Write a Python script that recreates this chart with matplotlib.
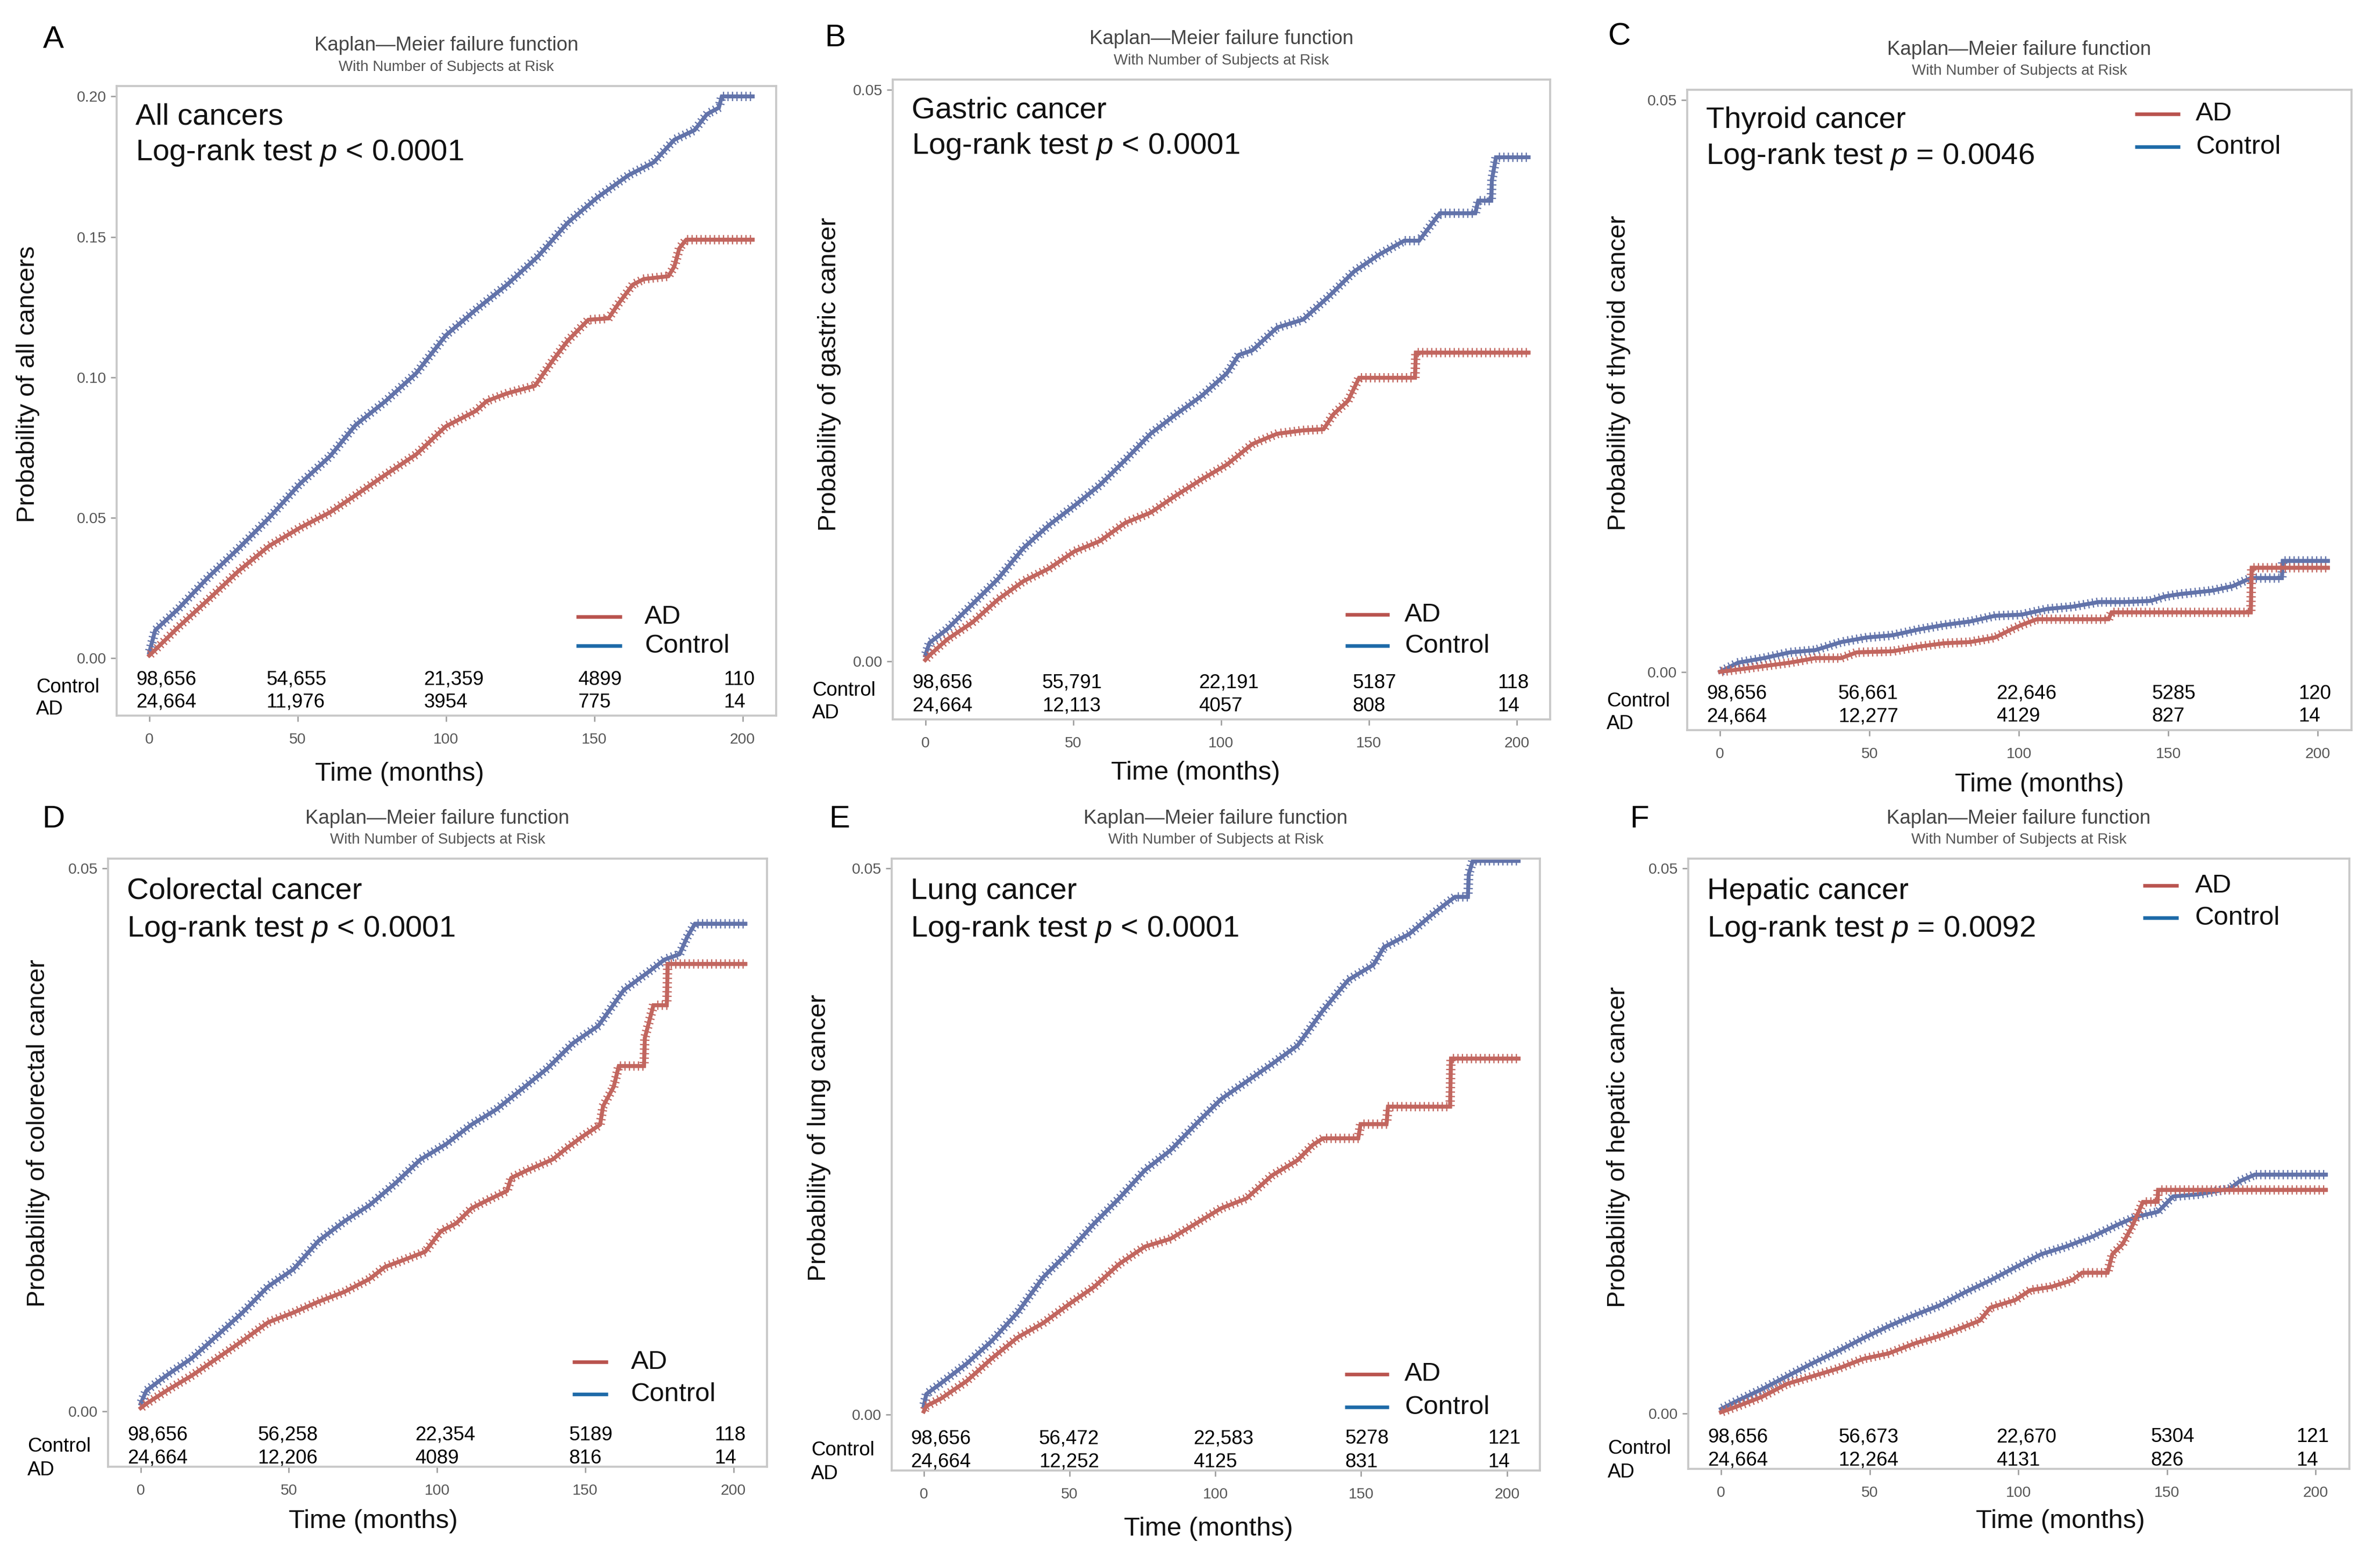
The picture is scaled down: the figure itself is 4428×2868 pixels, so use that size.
import matplotlib
matplotlib.use('Agg')
import matplotlib.pyplot as plt
from matplotlib import patheffects

plt.rcParams['font.family'] = ['Liberation Sans', 'DejaVu Sans']
plt.rcParams['mathtext.fontset'] = 'custom'
plt.rcParams['mathtext.rm'] = 'Liberation Sans'
plt.rcParams['mathtext.it'] = 'Liberation Sans:italic'

# ---- data (months, cumulative probability) ----

# A  all cancers
a_ctrl_t = [0, 1, 2, 9.7, 20, 30, 40.4, 50.7, 61, 69.5, 79.7, 90, 100, 110, 120.6, 131, 141, 151, 161.6, 170, 177, 183.8, 188, 192, 193, 203.4]
a_ctrl_p = [0.002, 0.006, 0.010, 0.0175, 0.029, 0.039, 0.050, 0.062, 0.072, 0.083, 0.0916, 0.1015, 0.115, 0.124, 0.133, 0.143, 0.155, 0.164, 0.172, 0.1765, 0.1846, 0.188, 0.1937, 0.196, 0.200, 0.200]
a_ad_t = [0, 2, 9.7, 20, 30, 40.4, 50.7, 61, 69.5, 79.7, 90, 100, 110, 113.8, 120.6, 130, 136, 141, 148, 154.8, 158, 163, 166.7, 175, 177, 178.7, 181, 203.4]
a_ad_p = [0.001, 0.003, 0.011, 0.021, 0.031, 0.040, 0.0464, 0.052, 0.058, 0.0654, 0.0726, 0.0826, 0.088, 0.0916, 0.0943, 0.097, 0.106, 0.113, 0.1205, 0.121, 0.126, 0.133, 0.135, 0.136, 0.1395, 0.146, 0.149, 0.149]

# B  gastric cancer
b_ctrl_t = [0, 1.4, 7.4, 16, 24.6, 33.2, 41.8, 50.4, 59, 67.6, 76.2, 84.8, 93.4, 102, 106, 110.6, 119, 127.8, 136.4, 145, 153.6, 162, 167, 174, 186, 187, 191.4, 191.6, 193, 204]
b_ctrl_p = [0.0005, 0.0016, 0.0028, 0.005, 0.0072, 0.0099, 0.0119, 0.0136, 0.0154, 0.0176, 0.0199, 0.0216, 0.0232, 0.0252, 0.0268, 0.0272, 0.0292, 0.0299, 0.0319, 0.0341, 0.0356, 0.0368, 0.0368, 0.0392, 0.0392, 0.0403, 0.0403, 0.0421, 0.0441, 0.0441]
b_ad_t = [0, 1.4, 7.4, 16, 24.6, 33.2, 41.8, 50.4, 59, 67.6, 76.2, 84.8, 93.4, 102, 110.6, 119, 127.8, 134.7, 138, 143, 146.7, 165.6, 165.9, 204]
b_ad_p = [0.0001, 0.0005, 0.0019, 0.0034, 0.0054, 0.007, 0.0081, 0.0096, 0.0105, 0.0121, 0.013, 0.0145, 0.0159, 0.0172, 0.019, 0.0199, 0.0202, 0.0203, 0.0216, 0.0228, 0.0248, 0.0248, 0.027, 0.027]

# C  thyroid cancer
c_ctrl_t = [0, 6, 14.7, 23.3, 31.9, 40.5, 49, 57.8, 66.4, 75, 83.6, 92, 100.9, 109.5, 118, 126.7, 135, 144, 149, 154, 164.6, 171.6, 177.6, 188, 188.3, 203.4]
c_ctrl_p = [0, 0.0008, 0.0012, 0.0017, 0.0019, 0.0026, 0.003, 0.0032, 0.0037, 0.0041, 0.0044, 0.0049, 0.005, 0.0055, 0.0057, 0.0061, 0.0061, 0.0062, 0.0066, 0.0068, 0.0071, 0.0075, 0.0082, 0.0082, 0.0097, 0.0097]
c_ad_t = [0, 6, 14.7, 23.3, 31.9, 40.5, 45.7, 57.8, 66.4, 75, 83.6, 92, 97.4, 100.9, 106, 130, 131, 177.6, 177.9, 203.4]
c_ad_p = [0, 0.0002, 0.0005, 0.0008, 0.0012, 0.0012, 0.0017, 0.0018, 0.0022, 0.0025, 0.0026, 0.003, 0.0037, 0.0041, 0.0046, 0.0046, 0.0052, 0.0052, 0.0091, 0.0091]

# D  colorectal cancer
d_ctrl_t = [0, 1.9, 8.7, 17.3, 25.9, 34.4, 43, 51.6, 60, 68.7, 77.3, 85.9, 94.4, 103, 111.6, 120, 128.7, 137.3, 145.8, 154.4, 163, 171.5, 176.7, 181.8, 184.4, 187, 204]
d_ctrl_p = [0.0007, 0.0019, 0.0033, 0.0049, 0.007, 0.0091, 0.0115, 0.0131, 0.0157, 0.0175, 0.019, 0.021, 0.0232, 0.0246, 0.0264, 0.0278, 0.0297, 0.0316, 0.0339, 0.0355, 0.0388, 0.0405, 0.0416, 0.0421, 0.0437, 0.0449, 0.0449]
d_ad_t = [0, 1.9, 8.7, 17.3, 25.9, 34.4, 43, 51.6, 60, 68.7, 77.3, 82.4, 89.3, 96, 101.3, 106.4, 111.6, 116.7, 123.6, 125, 130.4, 139, 144, 149, 155, 156, 159.6, 161.3, 169.8, 170.1, 173, 177.5, 177.8, 204]
d_ad_p = [0.0003, 0.0007, 0.0019, 0.0033, 0.0049, 0.0065, 0.0082, 0.0091, 0.0101, 0.011, 0.0122, 0.0133, 0.014, 0.0147, 0.0166, 0.0173, 0.0187, 0.0194, 0.0203, 0.0215, 0.0222, 0.0232, 0.0243, 0.0253, 0.0264, 0.0281, 0.0299, 0.0318, 0.0318, 0.0344, 0.0374, 0.0374, 0.0412, 0.0412]

# E  lung cancer
e_ctrl_t = [0, 0.9, 6, 14.8, 23.5, 32.3, 41, 49.7, 58.4, 67, 75.9, 84.6, 93.3, 102, 110.7, 119.4, 128.2, 136.9, 145.6, 154.3, 157.8, 166.5, 173.5, 178.7, 182.2, 186.6, 186.9, 188.3, 204]
e_ctrl_p = [0.0008, 0.0019, 0.0029, 0.0047, 0.0068, 0.0094, 0.0126, 0.0149, 0.0175, 0.0198, 0.0224, 0.0242, 0.0266, 0.0289, 0.0305, 0.0321, 0.0338, 0.037, 0.0398, 0.0412, 0.0428, 0.044, 0.0456, 0.0467, 0.0474, 0.0474, 0.0495, 0.0507, 0.0507]
e_ad_t = [0, 0.9, 6, 14.8, 23.5, 32.3, 41, 49.7, 58.4, 67, 75.9, 84.6, 93.3, 102, 110.7, 119.4, 128.2, 133.4, 136.9, 149, 149.8, 158.7, 159.2, 180.5, 180.8, 204]
e_ad_p = [0.0003, 0.0008, 0.0015, 0.0031, 0.0052, 0.0071, 0.0084, 0.0101, 0.0117, 0.0138, 0.0154, 0.0161, 0.0175, 0.0189, 0.0198, 0.0219, 0.0233, 0.0247, 0.0253, 0.0253, 0.0266, 0.0266, 0.0282, 0.0282, 0.0326, 0.0326]

# F  hepatic cancer
f_ctrl_t = [0, 5.1, 13.7, 22.2, 30.8, 39.3, 47.9, 56.4, 65, 73.5, 82, 90.6, 99, 107.7, 116, 124.8, 133.3, 139.3, 147, 152, 160.7, 171, 174.4, 179.5, 203.4]
f_ctrl_p = [0.0004, 0.0011, 0.0022, 0.0034, 0.0046, 0.0057, 0.0069, 0.008, 0.009, 0.0099, 0.0111, 0.0122, 0.0134, 0.0146, 0.0153, 0.0162, 0.0173, 0.018, 0.0185, 0.0199, 0.0201, 0.0206, 0.0213, 0.0219, 0.0219]
f_ad_t = [0, 5.1, 13.7, 22.2, 30.8, 39.3, 47.9, 56.4, 65, 73.5, 78.6, 87, 90.6, 99, 104, 111, 118, 121.4, 130, 131.6, 135, 138.5, 141.9, 146.8, 147, 203.4]
f_ad_p = [0.0001, 0.0006, 0.0015, 0.0027, 0.0034, 0.0041, 0.005, 0.0055, 0.0064, 0.0071, 0.0076, 0.0085, 0.0097, 0.0104, 0.0113, 0.0116, 0.0122, 0.0129, 0.0129, 0.0146, 0.0155, 0.0173, 0.0194, 0.0194, 0.0205, 0.0205]

# numbers at risk at 0, 50, 100, 150, 200 months
risk_times = [0, 50, 100, 150, 200]
a_risk_ctrl = ['98,656', '54,655', '21,359', '4899', '110']
a_risk_ad = ['24,664', '11,976', '3954', '775', '14']
b_risk_ctrl = ['98,656', '55,791', '22,191', '5187', '118']
b_risk_ad = ['24,664', '12,113', '4057', '808', '14']
c_risk_ctrl = ['98,656', '56,661', '22,646', '5285', '120']
c_risk_ad = ['24,664', '12,277', '4129', '827', '14']
d_risk_ctrl = ['98,656', '56,258', '22,354', '5189', '118']
d_risk_ad = ['24,664', '12,206', '4089', '816', '14']
e_risk_ctrl = ['98,656', '56,472', '22,583', '5278', '121']
e_risk_ad = ['24,664', '12,252', '4125', '831', '14']
f_risk_ctrl = ['98,656', '56,673', '22,670', '5304', '121']
f_risk_ad = ['24,664', '12,264', '4131', '826', '14']

letters = ['A', 'B', 'C', 'D', 'E', 'F']
names = ['All cancers', 'Gastric cancer', 'Thyroid cancer', 'Colorectal cancer', 'Lung cancer', 'Hepatic cancer']
ylabels = ['Probability of all cancers', 'Probability of gastric cancer', 'Probability of thyroid cancer',
           'Probability of colorectal cancer', 'Probability of lung cancer', 'Probability of hepatic cancer']
pvals = ['< 0.0001', '< 0.0001', '= 0.0046', '< 0.0001', '< 0.0001', '= 0.0092']

curves = [(a_ctrl_t, a_ctrl_p, a_ad_t, a_ad_p), (b_ctrl_t, b_ctrl_p, b_ad_t, b_ad_p),
          (c_ctrl_t, c_ctrl_p, c_ad_t, c_ad_p), (d_ctrl_t, d_ctrl_p, d_ad_t, d_ad_p),
          (e_ctrl_t, e_ctrl_p, e_ad_t, e_ad_p), (f_ctrl_t, f_ctrl_p, f_ad_t, f_ad_p)]
risks = [(a_risk_ctrl, a_risk_ad), (b_risk_ctrl, b_risk_ad), (c_risk_ctrl, c_risk_ad),
         (d_risk_ctrl, d_risk_ad), (e_risk_ctrl, e_risk_ad), (f_risk_ctrl, f_risk_ad)]

# ---- layout (pixels of the 4428x2868 picture) ----
W, H = 4428, 2868
PT = 72 / 300

# axes boxes: left, top, right, bottom
boxes = [(217, 160, 1444, 1331), (1661, 148, 2884, 1338), (3139, 167, 4375, 1358),
         (201, 1597, 1427, 2728), (1659, 1597, 2865, 2735), (3141, 1597, 4371, 2732)]
letter_pos = [(99, 74), (1554, 71), (3013, 69), (99, 1524), (1562, 1524), (3050, 1524)]
xlabel_pos = [(743, 1440), (2224, 1437), (3794, 1459), (694, 2830), (2248, 2843), (3833, 2829)]
ylabel_pos = [(-143, 0.526), (-96, 0.539), (-105, 0.558), (-108, 0.549), (-113, 0.544), (-108, 0.527)]
# legend: line start / end / text (px from right edge), AD row, Control row, measured from
legend_pos = [(372, 287, 245, 184, 130, 'bottom'), (381, 299, 271, 195, 137, 'bottom'),
              (403, 319, 290, 45, 106, 'top'), (362, 296, 253, 195, 135, 'bottom'),
              (363, 281, 252, 179, 118, 'bottom'), (384, 318, 287, 50, 110, 'top')]
risk_left = [-4.5, 39.5, 92.5, 144.5, 193.5]

ctrl_color = '#6273aa'
ad_color = '#c2665f'
leg_ctrl = '#1d6aa8'
leg_ad = '#b9534e'

fig = plt.figure(figsize=(W / 300, H / 300), dpi=300)

for i in range(6):
    l, t, r, b = boxes[i]
    wpx, hpx = r - l, b - t
    ax = fig.add_axes([l / W, 1 - b / H, wpx / W, hpx / H])

    ct, cp, at, ap = curves[i]
    for tt, pp, col in [(ct, cp, ctrl_color), (at, ap, ad_color)]:
        ax.plot(tt, pp, color=col, lw=1.7, solid_joinstyle='miter',
                path_effects=[patheffects.withTickedStroke(spacing=2.0, angle=90, length=0.9, linewidth=0.55),
                              patheffects.withTickedStroke(spacing=2.0, angle=-90, length=0.9, linewidth=0.55)])

    ax.set_xlim(-11, 211.3)
    if i == 0:
        ax.set_ylim(-0.0204, 0.2037)
        ax.set_yticks([0, 0.05, 0.10, 0.15, 0.20])
    else:
        ax.set_ylim(-0.0051, 0.0509)
        ax.set_yticks([0, 0.05])
    ax.yaxis.set_major_formatter(matplotlib.ticker.FormatStrFormatter('%.2f'))
    ax.set_xticks([0, 50, 100, 150, 200])
    ax.tick_params(axis='both', direction='out', length=2.6, width=0.6, color='#999999',
                   labelsize=6.8, labelcolor='#555555')
    ax.tick_params(axis='x', pad=5)
    ax.tick_params(axis='y', pad=2)
    for s in ax.spines.values():
        s.set_color('#c8c8c8')
        s.set_linewidth(0.9)

    # headers
    ax.annotate('Kaplan\u2014Meier failure function', xy=(0.5, 1), xycoords='axes fraction',
                xytext=(0, 75 * PT), textcoords='offset points', ha='center', va='center',
                fontsize=8.8, color='#444444')
    ax.annotate('With Number of Subjects at Risk', xy=(0.5, 1), xycoords='axes fraction',
                xytext=(0, 35 * PT), textcoords='offset points', ha='center', va='center',
                fontsize=6.7, color='#555555')

    dy1, dy2 = (57, 124) if i < 3 else (61, 131)
    ax.annotate(names[i], xy=(0, 1), xycoords='axes fraction', xytext=(35 * PT, -dy1 * PT),
                textcoords='offset points', ha='left', va='center', fontsize=13.5, color='#111111')
    ax.annotate('Log-rank test $p$ ' + pvals[i], xy=(0, 1), xycoords='axes fraction',
                xytext=(35 * PT, -dy2 * PT), textcoords='offset points', ha='left', va='center',
                fontsize=13.5, color='#111111')

    # legend
    x1, x2, xt, y_ad, y_ct, ref = legend_pos[i]
    if ref == 'bottom':
        fy_ad, fy_ct = y_ad / hpx, y_ct / hpx
    else:
        fy_ad, fy_ct = 1 - y_ad / hpx, 1 - y_ct / hpx
    for fy, col, lab in [(fy_ad, leg_ad, 'AD'), (fy_ct, leg_ctrl, 'Control')]:
        ax.plot([1 - x1 / wpx, 1 - x2 / wpx], [fy, fy], color=col, lw=1.6,
                transform=ax.transAxes, solid_capstyle='butt')
        ax.text(1 - xt / wpx, fy, lab, transform=ax.transAxes, ha='left', va='center',
                fontsize=11.8, color='#111111')

    # numbers at risk
    rc, ra = risks[i]
    ry_ct, ry_ad = (0.057, 0.021) if i < 3 else (0.052, 0.014)
    ly_ct, ly_ad = (0.045, 0.010) if i < 3 else (0.033, -0.006)
    trans = matplotlib.transforms.blended_transform_factory(ax.transData, ax.transAxes)
    for k in range(len(risk_times)):
        ax.text(risk_left[k], ry_ct, rc[k], transform=trans, ha='left', va='center', fontsize=8.8)
        ax.text(risk_left[k], ry_ad, ra[k], transform=trans, ha='left', va='center', fontsize=8.8)
    ax.text(-150 / wpx, ly_ct, 'Control', transform=ax.transAxes, ha='left', va='center', fontsize=8.8)
    ax.text(-150 / wpx, ly_ad, 'AD', transform=ax.transAxes, ha='left', va='center', fontsize=8.8)

    ax.set_ylabel(ylabels[i], fontsize=11.4, color='#111111')
    ax.yaxis.set_label_coords(ylabel_pos[i][0] / wpx, ylabel_pos[i][1])

    fig.text(letter_pos[i][0] / W, 1 - letter_pos[i][1] / H, letters[i], fontsize=14,
             ha='center', va='center')
    fig.text(xlabel_pos[i][0] / W, 1 - xlabel_pos[i][1] / H, 'Time (months)', fontsize=11.8,
             ha='center', va='center', color='#111111')

plt.savefig('out.png', dpi=300)
